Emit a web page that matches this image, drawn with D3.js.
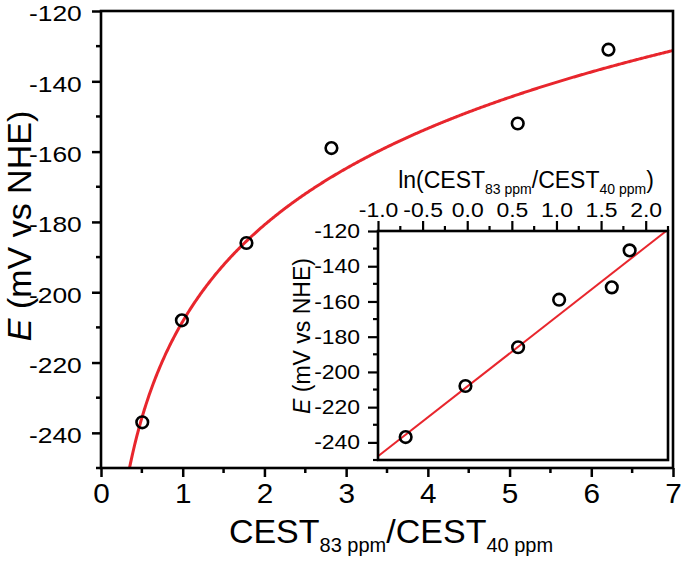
<!DOCTYPE html>
<html>
<head>
<meta charset="utf-8">
<script src="https://cdn.jsdelivr.net/npm/d3@7/dist/d3.min.js"></script>
<style>
  html, body { margin: 0; padding: 0; background: #fff; }
  svg { display: block; }
  text { font-family: "Liberation Sans", Arial, sans-serif; fill: #000; }
</style>
</head>
<body>
<svg id="chart" width="683" height="561"></svg>
<script>
// ---------------- data ----------------
const ratio = [0.505, 0.99, 1.78, 2.82, 5.10, 6.21];          // CEST83/CEST40
const potential = [-237, -208, -186, -159, -152, -131];       // E (mV vs NHE)
const lnRatio = [-0.69, -0.02, 0.57, 1.03, 1.62, 1.82];       // ln(CEST83/CEST40)
const fitIntercept = -208.3;  // red fit: E = a + b ln(ratio)
const fitSlope = 39.6;

const xTicks = [0, 1, 2, 3, 4, 5, 6, 7];
const yTicks = [-240, -220, -200, -180, -160, -140, -120];
const insetXTicks = [-1.0, -0.5, 0.0, 0.5, 1.0, 1.5, 2.0];
const insetYTicks = [-240, -220, -200, -180, -160, -140, -120];

// ---------------- layout ----------------
const svg = d3.select("#chart");
const RED = "#e8262d";
const main = { left: 101, right: 673, top: 11, bottom: 468 };
const ins = { left: 378, right: 668, top: 231, bottom: 460 };

const x = d3.scaleLinear().domain([0, 7]).range([main.left, main.right]);
const y = d3.scaleLinear().domain([-250, -120]).range([main.bottom, main.top]);
const xi = d3.scaleLinear().domain([-1, 2.25]).range([ins.left, ins.right]);
const yi = d3.scaleLinear().domain([-250, -120]).range([ins.bottom, ins.top]);

function styleAxis(g, w, fs, sx) {
  g.select(".domain").remove();
  g.selectAll(".tick line").attr("stroke", "#000").attr("stroke-width", w);
  g.selectAll(".tick text").attr("font-size", fs).attr("transform", `scale(${sx},1)`);
}

function minor(g, scale, vals, orient, len, w) {
  vals.forEach(v => {
    const p = scale(v);
    const l = g.append("line").attr("stroke", "#000").attr("stroke-width", w);
    if (orient === "bottom") l.attr("x1", p).attr("x2", p).attr("y1", 0).attr("y2", len);
    if (orient === "top") l.attr("x1", p).attr("x2", p).attr("y1", 0).attr("y2", -len);
    if (orient === "left") l.attr("y1", p).attr("y2", p).attr("x1", 0).attr("x2", -len);
  });
}

// ---------------- main chart ----------------
svg.append("clipPath").attr("id", "mainclip")
  .append("rect").attr("x", main.left).attr("y", main.top)
  .attr("width", main.right - main.left).attr("height", main.bottom - main.top);

const curveX = d3.range(0.3, 7.0001, 0.01);
svg.append("path")
  .attr("clip-path", "url(#mainclip)")
  .attr("fill", "none").attr("stroke", RED).attr("stroke-width", 3)
  .attr("d", d3.line().x(d => x(d)).y(d => y(fitIntercept + fitSlope * Math.log(d)))(curveX));

svg.append("g").selectAll("circle").data(ratio).join("circle")
  .attr("cx", d => x(d)).attr("cy", (d, i) => y(potential[i]))
  .attr("r", 5.8).attr("fill", "none").attr("stroke", "#000").attr("stroke-width", 2.6);

const gx = svg.append("g").attr("transform", `translate(0,${main.bottom})`)
  .call(d3.axisBottom(x).tickValues(xTicks).tickSize(9).tickPadding(6).tickFormat(d3.format("d")));
styleAxis(gx, 2.5, 27, 1.1);
gx.selectAll(".tick text").attr("dy", "0.74em");
minor(svg.append("g").attr("transform", `translate(0,${main.bottom})`),
  x, [0.5, 1.5, 2.5, 3.5, 4.5, 5.5, 6.5], "bottom", 5, 2.5);

const gy = svg.append("g").attr("transform", `translate(${main.left},0)`)
  .call(d3.axisLeft(y).tickValues(yTicks).tickSize(9).tickPadding(7).tickFormat(d => String(d)));
styleAxis(gy, 2.5, 22, 1.2);
gy.selectAll(".tick text").attr("dy", "0.45em");
minor(svg.append("g").attr("transform", `translate(${main.left},0)`),
  y, [-250, -230, -210, -190, -170, -150, -130], "left", 5, 2.5);

svg.append("rect").attr("x", main.left).attr("y", main.top)
  .attr("width", main.right - main.left).attr("height", main.bottom - main.top)
  .attr("fill", "none").attr("stroke", "#000").attr("stroke-width", 2.6);

const xt = svg.append("text").attr("x", 391).attr("y", 543).attr("text-anchor", "middle").attr("font-size", 34);
xt.append("tspan").text("CEST");
xt.append("tspan").attr("font-size", 20).attr("dy", 9).text("83 ppm");
xt.append("tspan").attr("dy", -9).text("/CEST");
xt.append("tspan").attr("font-size", 20).attr("dy", 9).text("40 ppm");

const yt = svg.append("text").attr("transform", "translate(31,226) rotate(-90)")
  .attr("text-anchor", "middle").attr("font-size", 34);
yt.append("tspan").attr("font-style", "italic").text("E");
yt.append("tspan").text(" (mV vs NHE)");

// ---------------- inset ----------------
svg.append("rect").attr("x", ins.left).attr("y", ins.top)
  .attr("width", ins.right - ins.left).attr("height", ins.bottom - ins.top)
  .attr("fill", "#fff").attr("stroke", "none");

svg.append("line")
  .attr("x1", xi(-1)).attr("y1", yi(fitIntercept + fitSlope * -1))
  .attr("x2", xi((-120 - fitIntercept) / fitSlope)).attr("y2", yi(-120))
  .attr("stroke", RED).attr("stroke-width", 2);

svg.append("g").selectAll("circle").data(lnRatio).join("circle")
  .attr("cx", d => xi(d)).attr("cy", (d, i) => yi(potential[i]))
  .attr("r", 5.8).attr("fill", "none").attr("stroke", "#000").attr("stroke-width", 2.6);

const gxi = svg.append("g").attr("transform", `translate(0,${ins.top})`)
  .call(d3.axisTop(xi).tickValues(insetXTicks).tickSize(10).tickPadding(4).tickFormat(d => d.toFixed(1)));
styleAxis(gxi, 2.2, 20.5, 1.12);
minor(svg.append("g").attr("transform", `translate(0,${ins.top})`),
  xi, [-0.75, -0.25, 0.25, 0.75, 1.25, 1.75, 2.25], "top", 5, 2.2);

const gyi = svg.append("g").attr("transform", `translate(${ins.left},0)`)
  .call(d3.axisLeft(yi).tickValues(insetYTicks).tickSize(10).tickPadding(6).tickFormat(d => String(d)));
styleAxis(gyi, 2.2, 20.5, 1.12);
minor(svg.append("g").attr("transform", `translate(${ins.left},0)`),
  yi, [-250, -230, -210, -190, -170, -150, -130], "left", 5, 2.2);

svg.append("rect").attr("x", ins.left).attr("y", ins.top)
  .attr("width", ins.right - ins.left).attr("height", ins.bottom - ins.top)
  .attr("fill", "none").attr("stroke", "#000").attr("stroke-width", 2.6);

const it = svg.append("text").attr("x", 526).attr("y", 188).attr("text-anchor", "middle").attr("font-size", 23);
it.append("tspan").text("ln(CEST");
it.append("tspan").attr("font-size", 14).attr("dy", 6).text("83 ppm");
it.append("tspan").attr("dy", -6).text("/CEST");
it.append("tspan").attr("font-size", 14).attr("dy", 6).text("40 ppm");
it.append("tspan").attr("dy", -6).text(")");

const iyt = svg.append("text").attr("transform", "translate(310,336) rotate(-90)")
  .attr("text-anchor", "middle").attr("font-size", 23);
iyt.append("tspan").attr("font-style", "italic").text("E");
iyt.append("tspan").text(" (mV vs NHE)");
</script>
</body>
</html>
